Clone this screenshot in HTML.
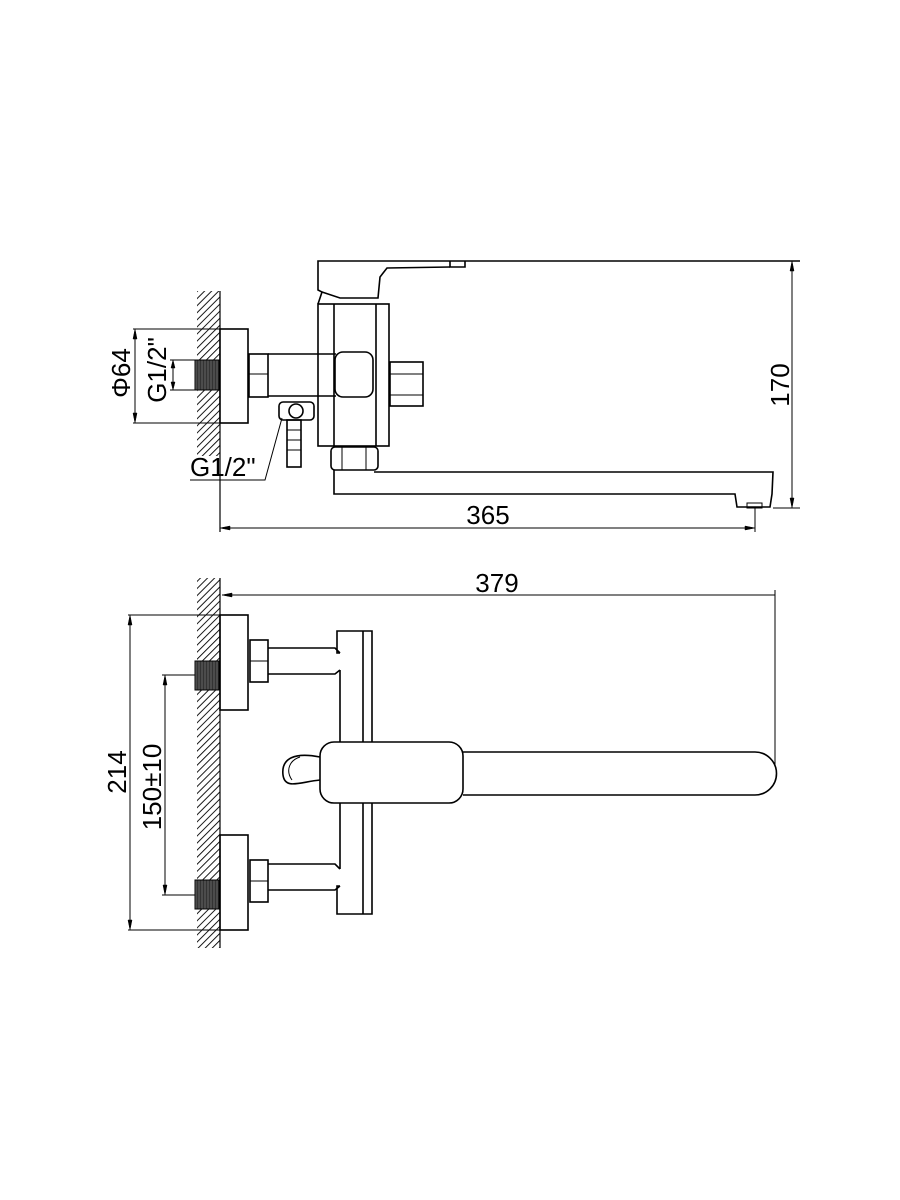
<!DOCTYPE html>
<html><head><meta charset="utf-8"><style>html,body{margin:0;padding:0;background:#fff}svg{display:block}</style></head><body>
<svg width="900" height="1200" viewBox="0 0 900 1200" xmlns="http://www.w3.org/2000/svg" font-family="Liberation Sans, sans-serif">
<defs>
<pattern id="h" width="5" height="5" patternUnits="userSpaceOnUse" patternTransform="rotate(45)"><line x1="0" y1="0" x2="0" y2="5" stroke="#000" stroke-width="1.8"/></pattern>
<pattern id="t" width="3" height="30" patternUnits="userSpaceOnUse"><rect width="3" height="30" fill="#333"/><line x1="1" y1="0" x2="1" y2="30" stroke="#888" stroke-width="0.6"/></pattern>
</defs>
<g fill="none" stroke="#000" stroke-width="1.6">
<rect x="197" y="291" width="23" height="165" fill="url(#h)" stroke="none"/>
<line x1="220" y1="291" x2="220" y2="532" stroke-width="1.2"/>
<rect x="195" y="360" width="24" height="30" fill="url(#t)" stroke="#000" stroke-width="1"/>
<rect x="220" y="329" width="28" height="94" fill="#fff"/>
<line x1="133" y1="329" x2="220" y2="329" stroke-width="1"/>
<line x1="133" y1="423" x2="220" y2="423" stroke-width="1"/>
<line x1="135" y1="331" x2="135" y2="421" stroke-width="1"/>
<line x1="170" y1="360" x2="195" y2="360" stroke-width="1"/>
<line x1="170" y1="390" x2="195" y2="390" stroke-width="1"/>
<line x1="173" y1="362" x2="173" y2="388" stroke-width="1"/>
<rect x="249" y="354" width="19" height="43"/>
<line x1="249" y1="374" x2="268" y2="374" stroke-width="1"/>
<line x1="268" y1="354" x2="336" y2="354"/>
<line x1="268" y1="396" x2="336" y2="396"/>
<rect x="335" y="352" width="38" height="45" rx="8"/>
<rect x="318" y="304" width="71" height="142"/>
<line x1="334" y1="304" x2="334" y2="446"/>
<line x1="376" y1="304" x2="376" y2="446"/>
<rect x="390" y="362" width="33" height="44"/>
<line x1="390" y1="374" x2="423" y2="374" stroke-width="1"/>
<line x1="390" y1="395" x2="423" y2="395" stroke-width="1"/>
<path d="M318 304 L322 292 L318 290 L318 261 L450 261 L450 267 L465 267 L465 261 M450 261 L800 261" />
<path d="M322 292 L340 298 L378 298 L380 277 L387 268 L450 267"/>
<rect x="279" y="402" width="35" height="18" rx="4"/>
<circle cx="296" cy="411" r="7"/>
<rect x="287" y="420" width="14" height="47"/>
<line x1="287" y1="430" x2="301" y2="430" stroke-width="1"/><line x1="287" y1="440" x2="301" y2="440" stroke-width="1"/><line x1="287" y1="450" x2="301" y2="450" stroke-width="1"/>
<path d="M190 480 L265 480 L282 418" stroke-width="1"/>
<rect x="331" y="447" width="47" height="23" rx="4"/>
<line x1="342" y1="447" x2="342" y2="470" stroke-width="1"/><line x1="366" y1="447" x2="366" y2="470" stroke-width="1"/>
<path d="M334 470 L334 494 L735 494 L737 507 L770 507 L772 494 L773 472 L374 472"/>
<rect x="747" y="503" width="15" height="5" stroke-width="1"/>
<line x1="773" y1="508" x2="800" y2="508" stroke-width="1"/>
<line x1="792" y1="263" x2="792" y2="506" stroke-width="1"/>
<path d="M792 261 l-2 10 h4z M792 508 l-2 -10 h4z" fill="#000" stroke-width="0.5"/>
<line x1="755" y1="508" x2="755" y2="532" stroke-width="1"/>
<line x1="222" y1="528" x2="753" y2="528" stroke-width="1"/>
<path d="M220 528 l10 -2 v4z M755 528 l-10 -2 v4z" fill="#000" stroke-width="0.5"/>
<path d="M135 329 l-2 10 h4z M135 423 l-2 -10 h4z M173 360 l-2 8 h4z M173 390 l-2 -8 h4z" fill="#000" stroke-width="0.5"/>

<rect x="197" y="578" width="23" height="370" fill="url(#h)" stroke="none"/>
<line x1="220" y1="578" x2="220" y2="948" stroke-width="1.2"/>
<line x1="222" y1="595" x2="775" y2="595" stroke-width="1"/>
<path d="M222 595 l10 -2 v4z" fill="#000" stroke-width="0.5"/>
<line x1="775" y1="590" x2="775" y2="765" stroke-width="1"/>
<rect x="195" y="661" width="24" height="29" fill="url(#t)" stroke="#000" stroke-width="1"/>
<rect x="195" y="880" width="24" height="29" fill="url(#t)" stroke="#000" stroke-width="1"/>
<rect x="220" y="615" width="28" height="95"/>
<rect x="220" y="835" width="28" height="95"/>
<rect x="250" y="640" width="18" height="42"/><line x1="250" y1="661" x2="268" y2="661" stroke-width="1"/>
<rect x="250" y="860" width="18" height="42"/><line x1="250" y1="881" x2="268" y2="881" stroke-width="1"/>
<path d="M268 648 L335 648 L340 653 M268 674 L335 674 L340 670 M268 864 L335 864 L340 869 M268 890 L335 890 L340 886"/>
<path d="M340 742 L340 670 M340 653 L337 653 L337 631 L372 631 L372 742 M363 631 L363 742"/>
<path d="M340 803 L340 869 M340 886 L337 886 L337 914 L372 914 L372 803 M363 803 L363 914"/>
<path d="M320 780 C300 782 285 790 283 775 C281 758 295 752 320 757"/>
<path d="M300 757 C290 760 285 770 292 780" stroke-width="1"/>
<rect x="320" y="742" width="143" height="61" rx="14"/>
<path d="M463 752 L755 752 A21 21 0 0 1 755 795 L463 795"/>
<line x1="128" y1="615" x2="220" y2="615" stroke-width="1"/>
<line x1="128" y1="930" x2="220" y2="930" stroke-width="1"/>
<line x1="130" y1="617" x2="130" y2="928" stroke-width="1"/>
<path d="M130 615 l-2 10 h4z M130 930 l-2 -10 h4z" fill="#000" stroke-width="0.5"/>
<line x1="162" y1="675" x2="195" y2="675" stroke-width="1"/>
<line x1="162" y1="895" x2="195" y2="895" stroke-width="1"/>
<line x1="165" y1="677" x2="165" y2="893" stroke-width="1"/>
<path d="M165 675 l-2 10 h4z M165 895 l-2 -10 h4z" fill="#000" stroke-width="0.5"/>
</g>
<g font-size="26" fill="#000">
<text x="488" y="524" text-anchor="middle">365</text>
<text x="497" y="592" text-anchor="middle">379</text>
<text transform="translate(789,385) rotate(-90)" text-anchor="middle">170</text>
<text transform="translate(130,373) rotate(-90)" text-anchor="middle">Φ64</text>
<text transform="translate(166,370) rotate(-90)" text-anchor="middle">G1/2"</text>
<text x="190" y="476">G1/2"</text>
<text transform="translate(126,772) rotate(-90)" text-anchor="middle">214</text>
<text transform="translate(161,787) rotate(-90)" text-anchor="middle">150±10</text>
</g>
</svg>
</body></html>
